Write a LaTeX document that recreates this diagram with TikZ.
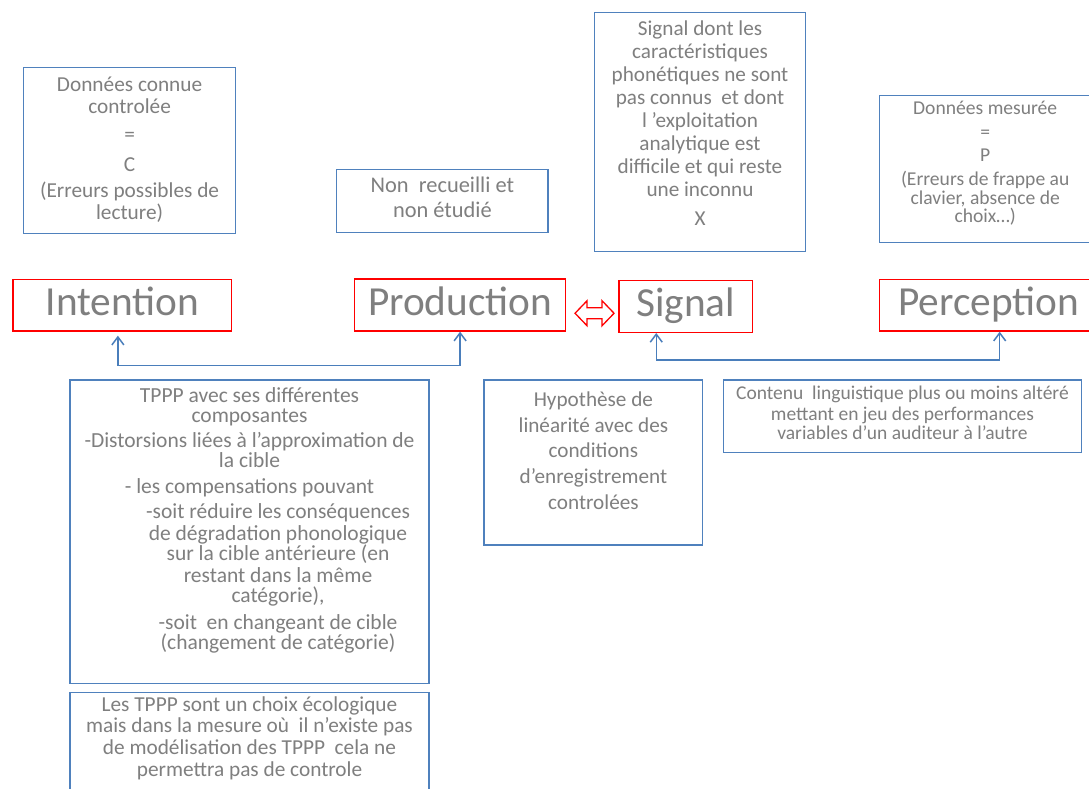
\documentclass[tikz,border=0pt]{standalone}
\usepackage{fontspec}
\setmainfont{Carlito}
\usetikzlibrary{calc,arrows.meta}
\definecolor{boxblue}{HTML}{4F81BD}
\definecolor{linkblue}{HTML}{4A7EBB}
\definecolor{txtgray}{HTML}{7F7F7F}

\begin{document}
\begin{tikzpicture}[x=1pt,y=-1pt,
infobox/.style={draw=boxblue,line width=1.3pt,inner sep=0pt},
stage/.style={draw=red,line width=1.3pt,inner sep=0pt,text=txtgray,font=\fontsize{41.3}{45}\selectfont,text height=28pt,text depth=8pt},
note/.style={text=txtgray,align=center,inner sep=0pt,anchor=north},
link/.style={linkblue,line width=1.5pt,{Straight Barb[length=8pt,width=12pt]}-{Straight Barb[length=8pt,width=12pt]}}]

\fill[white] (0,0) rectangle (1089,789);
\useasboundingbox (0,0) rectangle (1089,789);

% top boxes
\node[infobox,minimum width=212pt,minimum height=165.6pt] (datac) at (129.6,150.5) {};
\node[note,font=\fontsize{21.3}{22}\selectfont] (datactxt) at ([yshift=-8.9pt]datac.north) {\strut Données connue\\controlée\\[6pt]=\\[8pt]C\\[4pt](Erreurs possibles de\\lecture)};

\node[infobox,minimum width=211.3pt,minimum height=63.4pt] (nonrec) at (442.4,201) {};
\node[note,font=\fontsize{22.4}{25}\selectfont] (nonrectxt) at ([yshift=-6.2pt]nonrec.north) {\strut Non\ \ recueilli et\\non étudié};

\node[infobox,minimum width=211.3pt,minimum height=239pt] (sigx) at (700,132.2) {};
\node[note,font=\fontsize{21.2}{23}\selectfont] (sigxtxt) at ([yshift=-7.2pt]sigx.north) {\strut Signal dont les\\caractéristiques\\phonétiques ne sont\\pas connus\ \ et dont\\l ’exploitation\\analytique est\\difficile et qui reste\\une inconnu\\[5.5pt]X};

\node[infobox,minimum width=211.6pt,minimum height=146.6pt] (datap) at (985.2,169) {};
\node[note,font=\fontsize{19.6}{18.5}\selectfont] (dataptxt) at ([yshift=-6.35pt]datap.north) {\strut Données mesurée\\[5.5pt]=\\[4.5pt]P\\[5.5pt](Erreurs de frappe au\\clavier, absence de\\choix…)};

% stages
\node[stage,minimum width=218.9pt,minimum height=51.7pt] (intent) at (122.35,305.2) {Intention};
\node[stage,minimum width=211.2pt,minimum height=52pt] (prod) at (460.1,305) {Production};
\node[stage,minimum width=133.5pt,minimum height=51.6pt] (sig) at (685.75,306.5) {Signal};
\node[stage,minimum width=218.6pt,minimum height=51.7pt] (perc) at (988.7,305.2) {Perception};

\coordinate (dbl) at ($(prod.east)!0.5!(sig.west)$);
\draw[red,line width=1.3pt,fill=white,line join=miter] ([xshift=2.2pt,yshift=-7.5pt]dbl) ++(-19.5,0) -- ++(12,-12.5) -- ++(0,7) -- ++(15,0) -- ++(0,-7) -- ++(12,12.5) -- ++(-12,12.5) -- ++(0,-7) -- ++(-15,0) -- ++(0,7) -- cycle;

\draw[link] ([xshift=-4.5pt,yshift=-4pt]intent.south) -- ++(0,30) -| (prod.south);
\draw[link] ([xshift=-29.5pt]sig.south) -- ++(0,27) -| ([xshift=11pt]perc.south);

% bottom boxes
\node[infobox,minimum width=359pt,minimum height=303.3pt] (tppp) at (249.5,531.7) {};
\node[note,font=\fontsize{21.5}{20}\selectfont] (tpppup) at ([yshift=-7.7pt]tppp.north) {\strut TPPP avec ses différentes\\composantes\\[5pt]-Distorsions liées à l’approximation de\\la cible\\[6.6pt]- les compensations pouvant};
\node[note,font=\fontsize{21.5}{20}\selectfont] (tppplow) at ([xshift=28.5pt,yshift=-124.3pt]tppp.north) {\strut -soit réduire les conséquences\\de dégradation phonologique\\sur la cible antérieure (en\\[1.7pt]restant dans la même\\catégorie),\\[6.7pt]-soit\ \ en changeant de cible\\(changement de catégorie)};

\node[infobox,minimum width=359pt,minimum height=107.3pt] (tpppb) at (249.5,746.35) {};
\node[note,font=\fontsize{21.3}{21.7}\selectfont] (tpppbtxt) at ([yshift=-3.8pt]tpppb.north) {\strut Les TPPP sont un choix écologique\\mais dans la mesure où\ \ il n’existe pas\\de modélisation des TPPP\ \ cela ne\\permettra pas de controle};

\node[infobox,minimum width=218.7pt,minimum height=165pt] (hyp) at (593.4,462.5) {};
\node[note,font=\fontsize{21.2}{25.8}\selectfont] (hyptxt) at ([yshift=-8.6pt]hyp.north) {\strut Hypothèse de\\linéarité avec des\\conditions\\d’enregistrement\\controlées};

\node[infobox,minimum width=358.4pt,minimum height=72.7pt] (cont) at (902.5,416.35) {};
\node[note,font=\fontsize{19.5}{19}\selectfont] (conttxt) at ([yshift=-6.7pt]cont.north) {\strut Contenu\ \ linguistique plus ou moins altéré\\mettant en jeu des performances\\variables d’un auditeur à l’autre};
\end{tikzpicture}
\end{document}
